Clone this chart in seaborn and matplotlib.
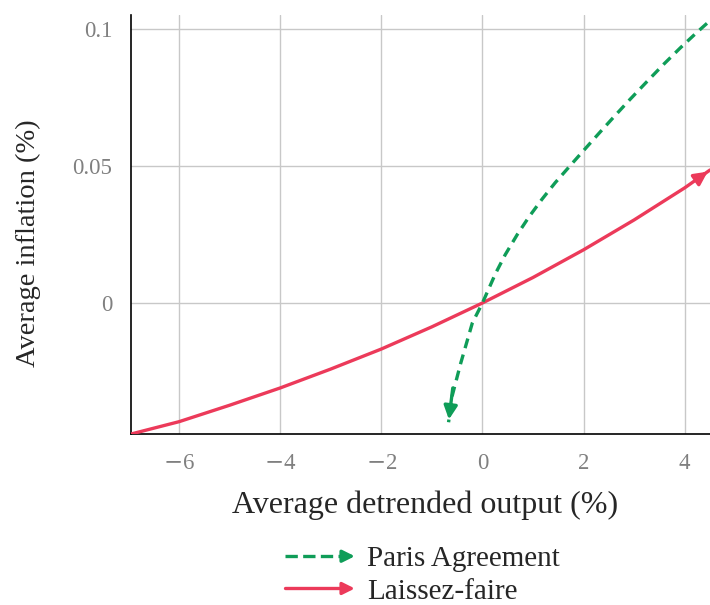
import matplotlib
matplotlib.use("Agg")
import matplotlib.pyplot as plt
import seaborn as sns
import pandas as pd
from matplotlib.lines import Line2D
from matplotlib.patches import FancyArrowPatch
from matplotlib.legend_handler import HandlerBase

# data
laissez_x = [-6.95, -6, -5, -4, -3, -2, -1, 0, 1, 2, 3, 4, 4.5]
laissez_y = [-0.0478, -0.0433, -0.0373, -0.031, -0.0241, -0.0168, -0.0087,
             0.0, 0.0093, 0.0194, 0.0303, 0.042, 0.0485]

paris_x = [4.44, 4.24, 3.91, 3.58, 3.25, 2.92, 2.6, 2.3, 2.0, 1.74, 1.44,
           1.18, 0.92, 0.69, 0.45, 0.26, 0.0, -0.2, -0.43, -0.6, -0.67]
paris_y = [0.102, 0.0987, 0.093, 0.087, 0.0807, 0.0743, 0.0679, 0.0618,
           0.0556, 0.0502, 0.0439, 0.0379, 0.0314, 0.025, 0.0176, 0.0108,
           0.0, -0.0073, -0.022, -0.034, -0.0435]

x_ticks = [-6, -4, -2, 0, 2, 4]
y_ticks = [0, 0.05, 0.1]
y_ticklabels = ["0", "0.05", "0.1"]

GREEN = "#0f9d58"
RED = "#ec3a5a"


class ArrowHandler(HandlerBase):
    def create_artists(self, legend, orig_handle, xdescent, ydescent,
                       width, height, fontsize, trans):
        y = height / 2 - ydescent
        x0 = -xdescent
        x1 = -xdescent + width
        shaft = Line2D([x0, x1 - 6], [y, y], color=orig_handle.get_color(),
                       linestyle=orig_handle.get_linestyle(),
                       lw=orig_handle.get_linewidth(), transform=trans)
        head = FancyArrowPatch((x1 - 10, y), (x1, y), arrowstyle="-|>",
                               mutation_scale=18, color=orig_handle.get_color(),
                               lw=orig_handle.get_linewidth(), transform=trans)
        return [shaft, head]


sns.set_style("white")
plt.rcParams["font.family"] = ["Liberation Serif", "DejaVu Serif"]
plt.rcParams["mathtext.fontset"] = "dejavuserif"

fig = plt.figure(figsize=(7.1, 6.05), dpi=100)
ax = fig.add_axes([0.1845, 0.2826, 0.8155, 0.6924])

df_lf = pd.DataFrame({"x": laissez_x, "y": laissez_y})
df_pa = pd.DataFrame({"x": paris_x, "y": paris_y})

sns.lineplot(data=df_lf, x="x", y="y", sort=False, ax=ax, color=RED, lw=2.4,
             zorder=3)
sns.lineplot(data=df_pa, x="x", y="y", sort=False, ax=ax, color=GREEN, lw=2.4,
             linestyle=(0, (3, 2)), zorder=4)

# arrow heads at the ends
ax.annotate("", xy=(laissez_x[-1], laissez_y[-1]),
            xytext=(laissez_x[-2] + 0.3, laissez_y[-2] + 0.0039),
            arrowprops=dict(arrowstyle="-|>", color=RED, lw=2.4,
                            mutation_scale=20), annotation_clip=False)
ax.annotate("", xy=(paris_x[-1], paris_y[-1]),
            xytext=(paris_x[-2] + 0.02, paris_y[-2] + 0.004),
            arrowprops=dict(arrowstyle="-|>", color=GREEN, lw=2.4,
                            mutation_scale=20), annotation_clip=False)

ax.set_xlim(-6.95, 4.5)
ax.set_ylim(-0.0478, 0.105)
ax.set_xticks(x_ticks)
ax.set_xticklabels([f"$-${abs(t)}" if t < 0 else str(t) for t in x_ticks])
ax.set_yticks(y_ticks)
ax.set_yticklabels(y_ticklabels)

ax.grid(True, color="#c8c8c8", lw=1)
ax.set_axisbelow(True)
for s in ["top", "right"]:
    ax.spines[s].set_visible(False)
for s in ["left", "bottom"]:
    ax.spines[s].set_color("black")
    ax.spines[s].set_linewidth(1.2)

ax.tick_params(axis="both", direction="inout", length=9, width=1,
               color="#808080", labelcolor="#808080", labelsize=16.5, pad=9)

ax.set_xlabel("Average detrended output (%)", fontsize=23)
ax.set_ylabel("Average inflation (%)", fontsize=20.5)
ax.xaxis.set_label_coords(0.508, -0.135)
ax.yaxis.set_label_coords(-0.155, 0.455)

handles = [Line2D([], [], color=GREEN, lw=2.4, linestyle=(0, (3, 2))),
           Line2D([], [], color=RED, lw=2.4)]
fig.legend(handles, ["Paris Agreement", "Laissez-faire"],
           handler_map={Line2D: ArrowHandler()},
           loc="center", bbox_to_anchor=(0.595, 0.049), frameon=False,
           fontsize=21, handlelength=2.5, handletextpad=0.34,
           labelspacing=0.2, borderpad=0)

fig.savefig("out.png", dpi=100)
